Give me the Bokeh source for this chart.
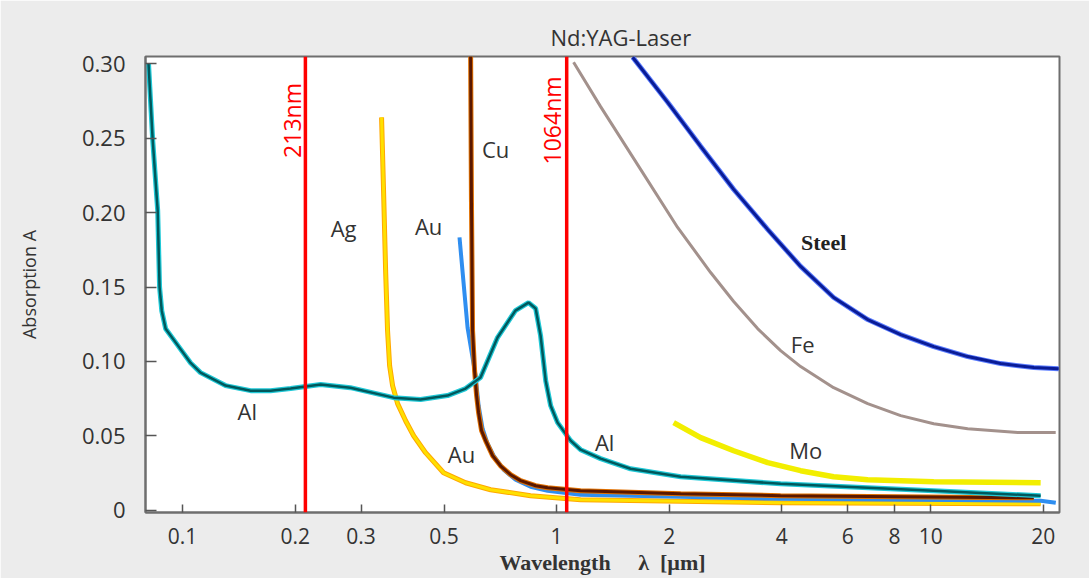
import math
from bokeh.plotting import figure
from bokeh.models import (Range1d, FixedTicker, CustomJSTickFormatter, Span, Label,
                          Title, ColumnDataSource)
from bokeh.core.properties import value
from bokeh.embed import file_html
from bokeh.resources import INLINE

# ---------------- data (wavelength in µm, absorption A) ----------------
al_x = [0.0811, 0.0832, 0.0858, 0.0868, 0.0880, 0.0901, 0.0970, 0.1051, 0.1117, 0.1303,
        0.152, 0.1719, 0.1945, 0.234, 0.281, 0.3666, 0.4328, 0.511, 0.571, 0.626, 0.695,
        0.776, 0.841, 0.879, 0.906, 0.935, 0.964, 1.006, 1.090, 1.159, 1.311, 1.577,
        2.146, 3.97, 10.19, 19.68]
al_y = [0.300, 0.249, 0.2015, 0.150, 0.134, 0.122, 0.111, 0.099, 0.0925, 0.0838,
        0.0804, 0.0804, 0.0818, 0.0845, 0.0824, 0.0757, 0.0744, 0.0771, 0.0818, 0.0892, 0.1161,
        0.1342, 0.1396, 0.1356, 0.1174, 0.0871, 0.0703, 0.0589, 0.0468, 0.0407, 0.0347, 0.0279,
        0.0225, 0.0178, 0.0131, 0.0098]

ag_x = [0.3404, 0.3446, 0.349, 0.3532, 0.3577, 0.3643, 0.3757, 0.3947, 0.4147, 0.4463, 0.4986,
        0.5711, 0.6662, 0.852, 1.159, 3.97, 19.68]
ag_y = [0.2641, 0.215, 0.1612, 0.1208, 0.0972, 0.0838, 0.0717, 0.0602, 0.0501, 0.0387, 0.0252,
        0.0185, 0.0138, 0.0098, 0.0071, 0.0050, 0.0044]

au_x = [0.550, 0.578, 0.6072, 0.6186, 0.634, 0.654, 0.6786, 0.7217, 0.777, 0.852, 0.946, 1.159,
        2.146, 3.97, 19.68, 21.6]
au_y = [0.1834, 0.1228, 0.0905, 0.0703, 0.0548, 0.0447, 0.0367, 0.0273, 0.0205, 0.0158, 0.0131,
        0.0104, 0.0091, 0.0077, 0.0064, 0.0050]

cu_x = [0.589, 0.592, 0.596, 0.6035, 0.611, 0.6186, 0.630, 0.646, 0.6744, 0.708, 0.7534, 0.801,
        0.879, 0.946, 1.159, 2.146, 3.97, 18.86]
cu_y = [0.305, 0.2083, 0.1208, 0.0939, 0.0771, 0.0656, 0.0535, 0.0468, 0.0367, 0.0299, 0.0239,
        0.0199, 0.0165, 0.0151, 0.0131, 0.0111, 0.0098, 0.0084]

steel_x = [1.597, 1.981, 2.427, 2.974, 3.666, 4.491, 5.503, 6.785, 8.314, 10.19, 12.56, 15.39,
           18.86, 21.99]
steel_y = [0.3045, 0.2742, 0.2446, 0.2157, 0.1888, 0.1639, 0.143, 0.1282, 0.1181, 0.1100, 0.1033,
           0.0986, 0.0959, 0.0952]

fe_x = [1.110, 1.311, 1.677, 2.106, 2.581, 2.974, 3.446, 3.97, 4.491, 5.503, 6.785, 8.314,
        10.19, 12.56, 17.09, 21.59]
fe_y = [0.3011, 0.2713, 0.2291, 0.1901, 0.1598, 0.1403, 0.1221, 0.1073, 0.0966, 0.0824, 0.0717,
        0.0636, 0.0582, 0.0548, 0.0522, 0.0522]

mo_x = [2.055, 2.427, 2.974, 3.666, 4.491, 5.503, 6.785, 10.19, 19.68]
mo_y = [0.0589, 0.0488, 0.040, 0.032, 0.0266, 0.0225, 0.0205, 0.0192, 0.0185]

# curve labels
lbl_text = ["Al", "Ag", "Au", "Cu", "Au", "Al", "Fe", "Mo"]
lbl_x = [0.149, 0.2695, 0.4547, 0.687, 0.557, 1.344, 4.548, 4.633]
lbl_y = [0.067, 0.190, 0.1908, 0.2426, 0.038, 0.0461, 0.112, 0.0407]
steel_lbl = ("Steel", 5.175, 0.180)

# laser wavelengths
laser_um = [0.213, 1.064]
laser_text = ["213nm", "1064nm"]
laser_lbl_y = 0.262

# ticks
x_ticks = [0.1, 0.2, 0.3, 0.5, 1, 2, 4, 6, 8, 10, 20]
x_tick_labels = ["0.1", "0.2", "0.3", "0.5", "1", "2", "4", "6", "8", "10", "20"]
y_ticks = [0, 0.05, 0.10, 0.15, 0.20, 0.25, 0.30]
y_tick_labels = ["0", "0.05", "0.10", "0.15", "0.20", "0.25", "0.30"]

title_text = "Nd:YAG-Laser"
x_label = "Wavelength\u00a0\u00a0\u00a0\u00a0\u00a0\u03bb\u00a0\u00a0[\u00b5m]"
y_label = "Absorption A"

# ---------------- figure ----------------
p = figure(width=1089, height=578, x_axis_type="log",
           x_range=Range1d(0.0796, 22.1), y_range=Range1d(-0.0015, 0.305),
           output_backend="svg", toolbar_location=None,
           min_border_left=145, min_border_right=30, min_border_top=56, min_border_bottom=66)
p.background_fill_color = "white"
p.border_fill_color = "#ececec"
p.outline_line_color = "#6e6e6e"
p.outline_line_width = 2
p.grid.visible = False

p.add_layout(Title(text=title_text, align="left", offset=405, text_font="Open Sans",
                   text_font_size="22px", text_font_style="normal", text_color="#333333"),
             "above")

fmt_code = """
for (let k = 0; k < tv.length; k++) {
  if (Math.abs(tv[k] - tick) <= 1e-9 * Math.max(1, Math.abs(tick))) return tl[k];
}
return '';
"""
p.xaxis.ticker = FixedTicker(ticks=x_ticks)
p.xaxis.formatter = CustomJSTickFormatter(args=dict(tv=x_ticks, tl=x_tick_labels), code=fmt_code)
p.yaxis.ticker = FixedTicker(ticks=y_ticks)
p.yaxis.formatter = CustomJSTickFormatter(args=dict(tv=y_ticks, tl=y_tick_labels), code=fmt_code)

for ax in (p.xaxis[0], p.yaxis[0]):
    ax.axis_line_color = "#6e6e6e"
    ax.axis_line_width = 2
    ax.major_tick_line_color = "#555555"
    ax.major_tick_line_width = 1.5
    ax.major_tick_out = 0
    ax.minor_tick_line_color = None
    ax.major_label_text_font = "Open Sans"
    ax.major_label_text_color = "#333333"
p.xaxis.major_label_text_font_size = "21px"
p.yaxis.major_label_text_font_size = "22px"
p.xaxis.major_tick_in = 8
p.xaxis.major_label_standoff = 15
p.xaxis.axis_label = x_label
p.xaxis.axis_label_text_font = "Liberation Serif"
p.xaxis.axis_label_text_font_size = "22px"
p.xaxis.axis_label_text_font_style = "bold"
p.xaxis.axis_label_text_color = "#333333"
p.xaxis.axis_label_standoff = 3
p.yaxis.major_tick_in = 11
p.yaxis.major_label_standoff = 20
p.yaxis.axis_label = y_label
p.yaxis.axis_label_text_font = "Open Sans"
p.yaxis.axis_label_text_font_size = "18px"
p.yaxis.axis_label_text_font_style = "normal"
p.yaxis.axis_label_text_color = "#333333"
p.yaxis.axis_label_standoff = 38

# ---------------- curves ----------------
p.line(fe_x, fe_y, line_color="#a3918c", line_width=3)
p.line(steel_x, steel_y, line_color="#5a7cff", line_width=5)
p.line(steel_x, steel_y, line_color="#0a1c96", line_width=3)
p.line(mo_x, mo_y, line_color="#f2ee00", line_width=5.5)
p.line(ag_x, ag_y, line_color="#ffa800", line_width=5)
p.line(ag_x, ag_y, line_color="#ffe000", line_width=3)
p.line(au_x, au_y, line_color="#2f8ef0", line_width=4)
p.line(cu_x, cu_y, line_color="#e07000", line_width=5)
p.line(cu_x, cu_y, line_color="#5a1800", line_width=3)
p.line(al_x, al_y, line_color="#1fc8d6", line_width=5)
p.line(al_x, al_y, line_color="#00585c", line_width=2.5)

src = ColumnDataSource(dict(x=lbl_x, y=lbl_y, t=lbl_text))
p.text(x="x", y="y", text="t", source=src, text_font=value("Open Sans"),
       text_font_size=value("22px"), text_color="#333333",
       text_align="center", text_baseline="middle")
p.add_layout(Label(x=steel_lbl[1], y=steel_lbl[2], text=steel_lbl[0],
                   text_font="Liberation Serif", text_font_style="bold",
                   text_font_size="22px", text_color="#222222",
                   text_align="center", text_baseline="middle"))

# laser lines
offs = [-13, -15]
for um, txt, off in zip(laser_um, laser_text, offs):
    p.add_layout(Span(location=um, dimension="height", line_color="#ff0000", line_width=3.5))
    p.add_layout(Label(x=um, y=laser_lbl_y, x_offset=off, text=txt, angle=math.pi / 2,
                       text_font="Open Sans", text_font_size="23px", text_color="#ff0000",
                       text_align="center", text_baseline="middle"))

open("out.html", "w").write(file_html(p, INLINE))
